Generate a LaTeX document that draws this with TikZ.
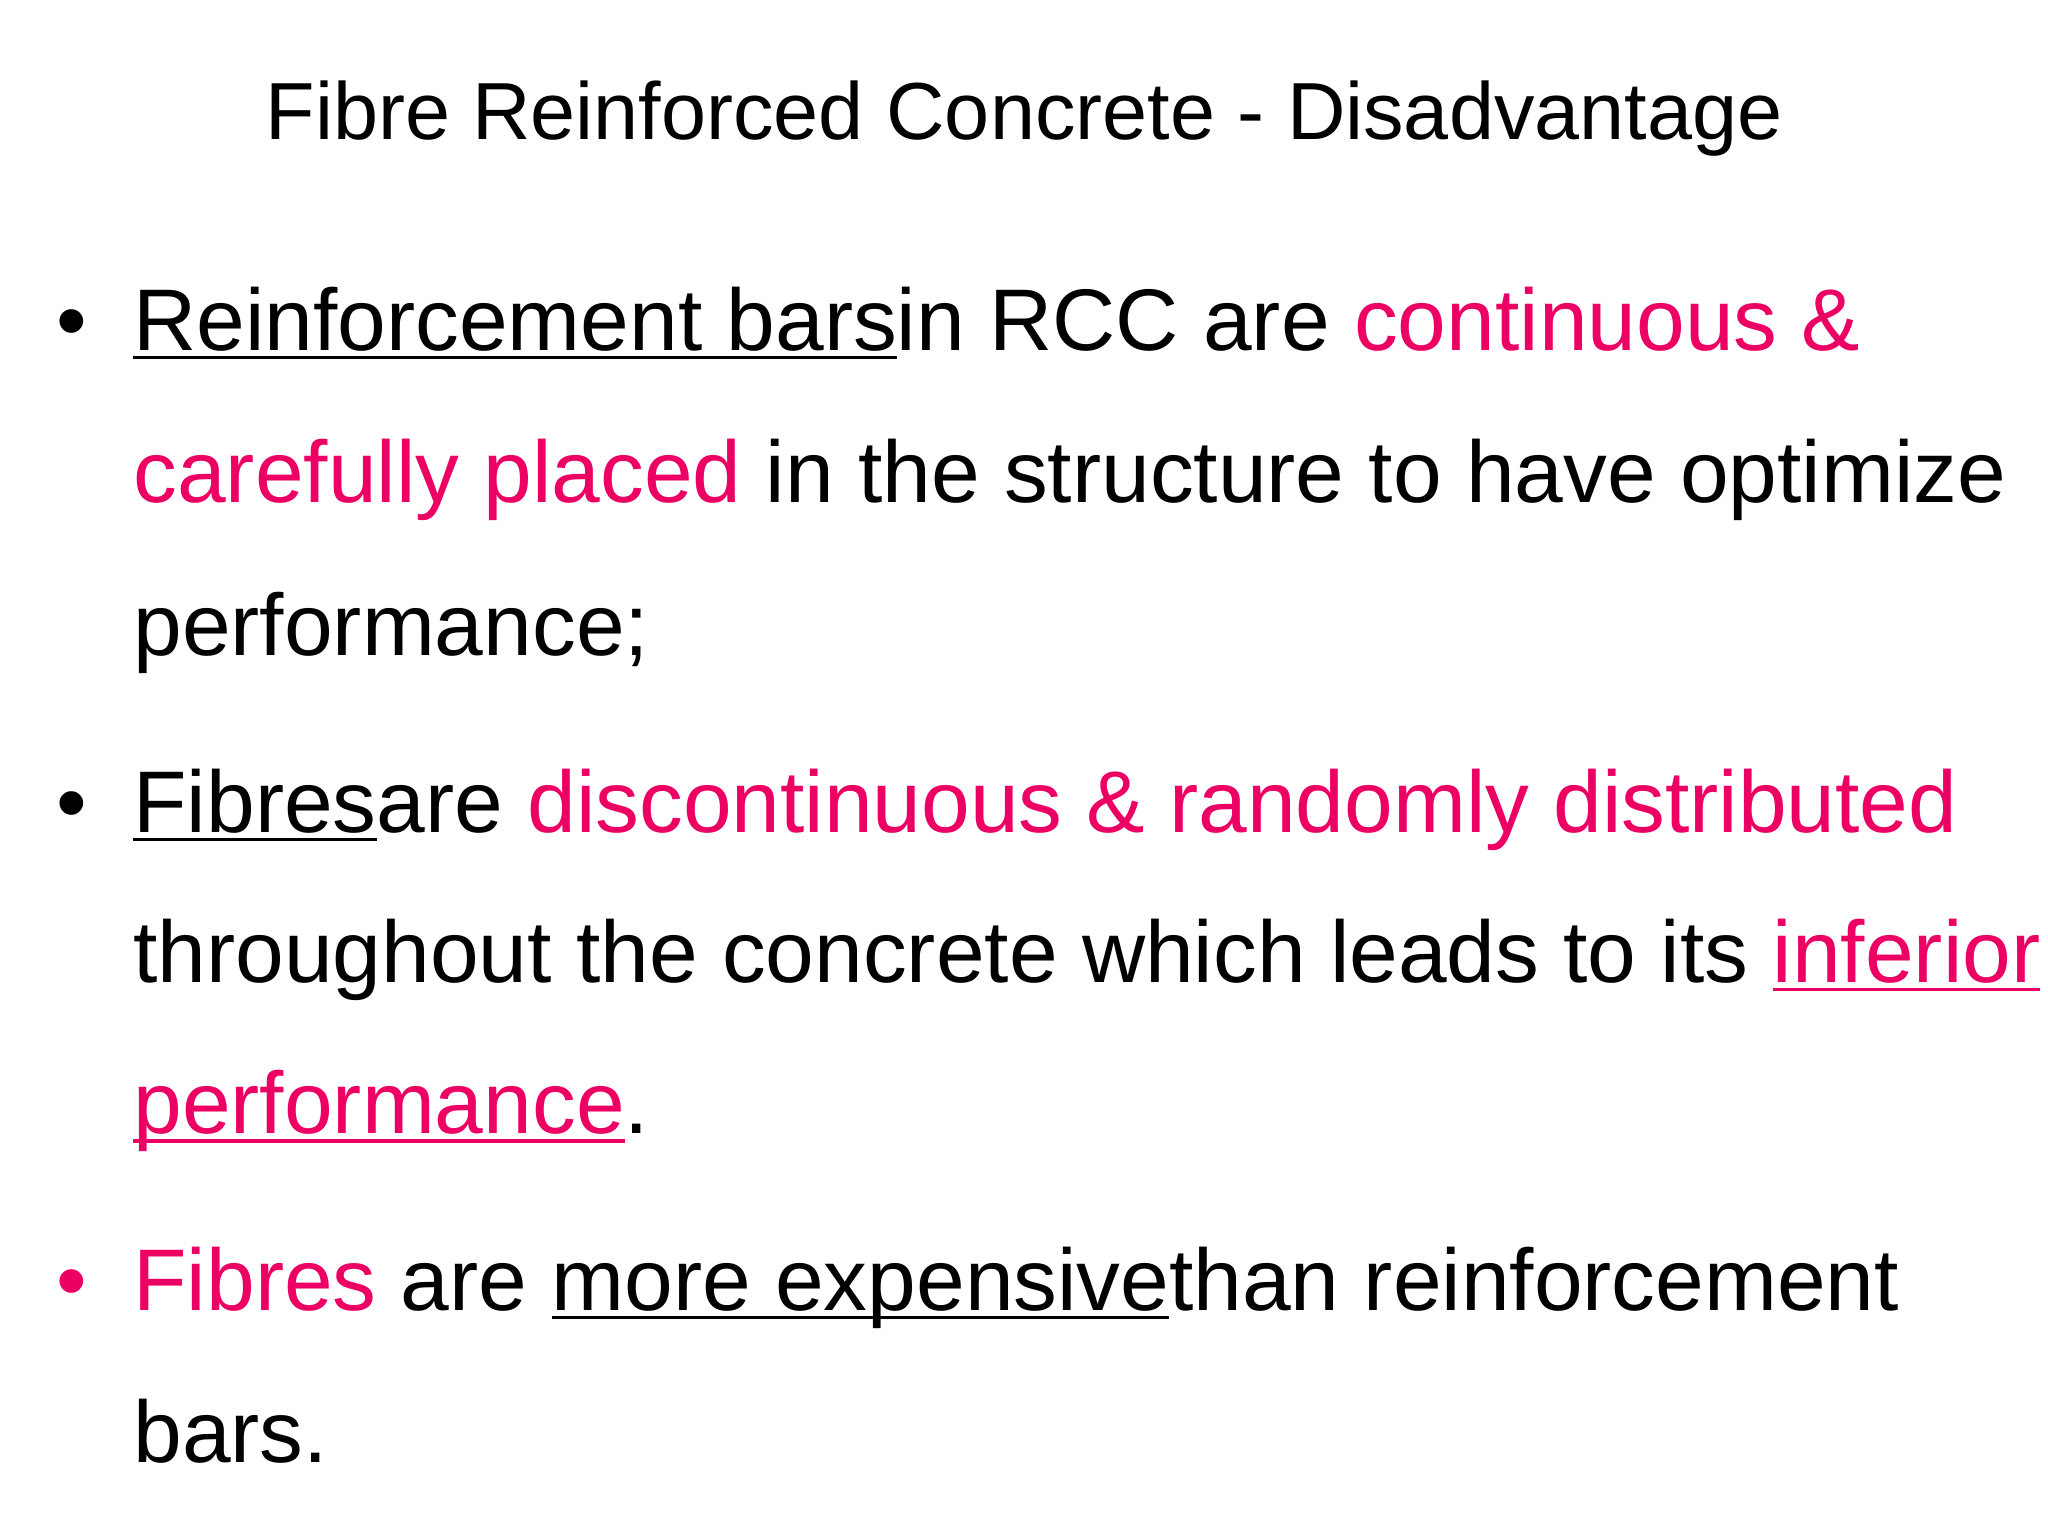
\documentclass[tikz,border=0pt]{standalone}
\usepackage{fontspec}
\setmainfont{Liberation Sans}
\definecolor{pk}{RGB}{236,0,100}
\newcommand{\myul}[1]{\leavevmode\setbox0\hbox{#1}\rlap{\raisebox{-7pt}{\rule{\wd0}{2.6pt}}}\box0}
\newcommand{\pk}[1]{{\color{pk}#1}}
\tikzset{ln/.style={anchor=base west,inner sep=0pt,font=\fontsize{67}{80}\selectfont},
 bul/.style={anchor=base,inner sep=0pt,font=\fontsize{67}{80}\selectfont}}
\begin{document}
\begin{tikzpicture}[x=1pt,y=-1pt]
\useasboundingbox (0,0) rectangle (1568,1176);
\node[anchor=base,inner sep=0pt,font=\fontsize{62}{72}\selectfont] (title) at (784,107) {Fibre Reinforced Concrete - Disadvantage};
\node[bul] (b1) at (55,268) {•};
\node[ln] (l1) at (102,268) {\myul{Reinforcement bars} in RCC are \pk{continuous \&}};
\node[ln] (l2) at (102,385) {\pk{carefully placed} in the structure to have optimize};
\node[ln] (l3) at (102,502) {performance;};
\node[bul] (b2) at (55,637) {•};
\node[ln] (l4) at (102,637) {\myul{Fibres} are \pk{discontinuous \& randomly distributed}};
\node[ln] (l5) at (102,752) {throughout the concrete which leads to its {\color{pk}\myul{inferior}}};
\node[ln] (l6) at (102,868) {{\color{pk}\myul{performance}}.};
\node[bul,text=pk] (b3) at (55,1003) {•};
\node[ln] (l7) at (102,1003) {\pk{Fibres} are \myul{more expensive} than reinforcement};
\node[ln] (l8) at (102,1120) {bars.};
\end{tikzpicture}
\end{document}
